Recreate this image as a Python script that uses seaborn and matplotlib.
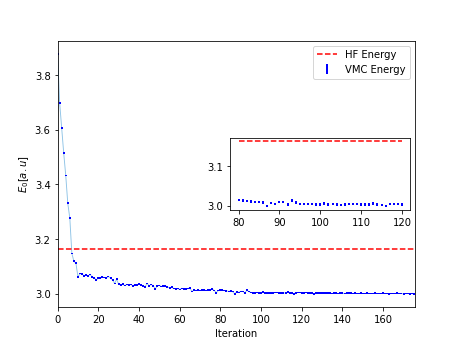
import numpy as np
import pandas as pd
import matplotlib
matplotlib.use("Agg")
import matplotlib.pyplot as plt
import seaborn as sns

# VMC ground-state energy estimate per optimisation iteration
vmc_energy = [
    3.878, 3.699, 3.607, 3.515, 3.433, 3.331, 3.277, 3.148, 3.119, 3.112,
    3.062, 3.074, 3.072, 3.066, 3.068, 3.066, 3.070, 3.062, 3.058, 3.051,
    3.057, 3.057, 3.061, 3.060, 3.058, 3.063, 3.058, 3.051, 3.038, 3.053,
    3.035, 3.032, 3.035, 3.030, 3.034, 3.032, 3.034, 3.029, 3.032, 3.033,
    3.036, 3.032, 3.029, 3.026, 3.038, 3.029, 3.034, 3.029, 3.018, 3.029,
    3.031, 3.027, 3.028, 3.029, 3.025, 3.022, 3.024, 3.020, 3.018, 3.019,
    3.016, 3.020, 3.018, 3.017, 3.019, 3.022, 3.008, 3.014, 3.012, 3.013,
    3.012, 3.013, 3.014, 3.012, 3.013, 3.014, 3.018, 3.012, 3.004, 3.012,
    3.014, 3.013, 3.012, 3.011, 3.009, 3.010, 3.008, 3.000, 3.007, 3.005,
    3.009, 3.009, 3.003, 3.013, 3.008, 3.005, 3.004, 3.004, 3.005, 3.003,
    3.003, 3.006, 3.003, 3.004, 3.003, 3.0025, 3.003, 3.005, 3.005, 3.004,
    3.003, 3.003, 3.003, 3.006, 3.003, 3.0025, 3.000, 3.004, 3.005, 3.005,
    3.003, 3.004, 3.005, 3.004, 3.003, 3.002, 2.999, 3.002, 3.003, 3.002,
    3.003, 3.002, 3.002, 3.003, 3.002, 3.001, 3.002, 3.002, 3.001, 3.002,
    3.002, 3.001, 3.002, 3.003, 3.002, 3.001, 3.002, 3.001, 3.001, 3.002,
    3.001, 3.001, 3.002, 3.001, 3.001, 3.001, 3.002, 3.001, 3.001, 3.001,
    3.002, 3.001, 3.001, 3.000, 3.001, 3.001, 3.001, 3.002, 3.001, 3.001,
    3.000, 3.001, 3.001, 3.000, 3.001, 3.000,
]
vmc_err = 0.003           # statistical error of each VMC estimate
hf_energy = 3.1628        # Hartree-Fock reference energy
zoom_start, zoom_stop = 80, 120

iterations = np.arange(len(vmc_energy))
df = pd.DataFrame({"Iteration": iterations, "E": vmc_energy})

fig = plt.figure(figsize=(6.4, 4.8), dpi=72)
ax = fig.add_subplot(111)

sns.lineplot(data=df, x="Iteration", y="E", ax=ax, color="#8ec3e6",
             linewidth=0.9, legend=False)
ax.hlines(hf_energy, iterations[0], iterations[-1], colors="red",
          linestyles="--", linewidth=1.5, label="HF Energy")
ax.errorbar(df["Iteration"], df["E"], yerr=vmc_err, fmt="none",
            ecolor="blue", elinewidth=2, label="VMC Energy")
ax.set_xlim(iterations[0], iterations[-1] + 0.5)
ax.set_xlabel("Iteration")
ax.set_ylabel(r"$E_0[a.u]$")
ax.legend(loc="upper right")

# Zoomed view of the converged region
sub = df[(df["Iteration"] >= zoom_start) & (df["Iteration"] <= zoom_stop)]
axin = fig.add_axes([0.5, 0.39, 0.39, 0.21])
axin.hlines(hf_energy, zoom_start, zoom_stop, colors="red",
            linestyles="--", linewidth=1.5)
axin.errorbar(sub["Iteration"], sub["E"], yerr=vmc_err, fmt="none",
              ecolor="blue", elinewidth=2)
axin.set_xticks([80, 90, 100, 110, 120])
axin.set_yticks([3.0, 3.1])

fig.savefig("out.png", dpi=72)
